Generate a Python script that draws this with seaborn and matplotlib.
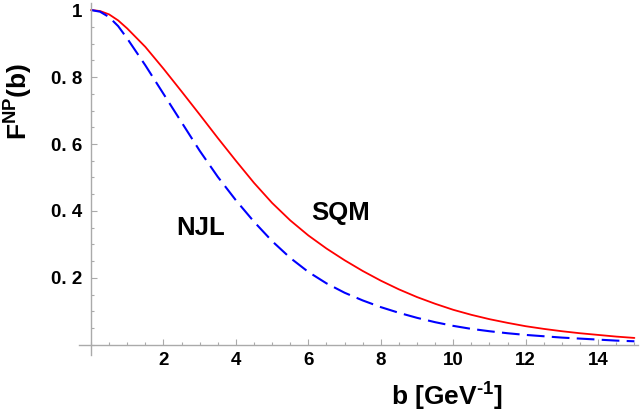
import numpy as np
import pandas as pd
import seaborn as sns
import matplotlib.pyplot as plt
from matplotlib.ticker import MultipleLocator, FixedLocator

# values (b in GeV^-1)
b = [0.0, 0.25, 0.5, 0.75, 1.0, 1.5, 2.0, 2.5, 3.0, 3.5, 4.0, 4.5, 5.0, 5.5, 6.0, 6.5, 7.0,
     7.5, 8.0, 8.5, 9.0, 9.5, 10.0, 10.5, 11.0, 11.5, 12.0, 12.5, 13.0, 13.5, 14.0, 14.5, 15.0]
sqm = [1.0, 0.997, 0.987, 0.969, 0.945, 0.89, 0.825, 0.757, 0.688, 0.618, 0.550, 0.484,
       0.424, 0.372, 0.327, 0.288, 0.253, 0.221, 0.192, 0.166, 0.143, 0.123, 0.105, 0.090,
       0.077, 0.066, 0.056, 0.048, 0.041, 0.035, 0.030, 0.025, 0.021]
njl = [1.0, 0.995, 0.979, 0.952, 0.915, 0.835, 0.75, 0.665, 0.58, 0.502, 0.432, 0.368,
       0.310, 0.260, 0.218, 0.184, 0.156, 0.133, 0.113, 0.096, 0.081, 0.068, 0.057, 0.048,
       0.041, 0.035, 0.030, 0.026, 0.022, 0.019, 0.016, 0.013, 0.011]

xticks = [2, 4, 6, 8, 10, 12, 14]
xticklabels = ["2", "4", "6", "8", "10", "12", "14"]
yticks = [0.2, 0.4, 0.6, 0.8, 1.0]
yticklabels = ["0. 2", "0. 4", "0. 6", "0. 8", "1"]

df = pd.DataFrame({"b": b, "SQM": sqm, "NJL": njl})

sns.set_style("white")
plt.rcParams["font.family"] = ["Liberation Sans", "DejaVu Sans"]
plt.rcParams["font.weight"] = "bold"
plt.rcParams["text.color"] = "black"
plt.rcParams["axes.labelcolor"] = "black"
plt.rcParams["xtick.labelcolor"] = "black"
plt.rcParams["ytick.labelcolor"] = "black"
plt.rcParams["mathtext.fontset"] = "custom"
plt.rcParams["mathtext.rm"] = "Liberation Sans:bold"
plt.rcParams["mathtext.it"] = "Liberation Sans:bold"
plt.rcParams["mathtext.bf"] = "Liberation Sans:bold"

fig = plt.figure(figsize=(6.44, 4.16), dpi=100)
ax = fig.add_axes([0.1227, 0.1466, 0.8680, 0.8454])

sns.lineplot(data=df, x="b", y="SQM", ax=ax, color="#ff0000", lw=1.3)
sns.lineplot(data=df, x="b", y="NJL", ax=ax, color="#0000ff", lw=1.5,
             linestyle=(0, (8.5, 3.5)))

ax.set_xlim(-0.33, 15.1)
ax.set_ylim(-0.03, 1.02)

axis_col = "#aaaaaa"
for side in ["top", "right"]:
    ax.spines[side].set_visible(False)
for side in ["left", "bottom"]:
    ax.spines[side].set_position(("data", 0))
    ax.spines[side].set_color(axis_col)
    ax.spines[side].set_linewidth(1.0)

ax.xaxis.set_major_locator(FixedLocator(xticks))
ax.set_xticklabels(xticklabels)
ax.xaxis.set_minor_locator(MultipleLocator(0.5))
ax.yaxis.set_major_locator(FixedLocator(yticks))
ax.set_yticklabels(yticklabels)
ax.yaxis.set_minor_locator(MultipleLocator(0.05))

ax.tick_params(which="both", direction="in", color=axis_col, width=0.8,
               labelsize=13.5, bottom=True, left=True)
ax.tick_params(which="major", length=4.5, pad=5)
ax.tick_params(which="minor", length=2.5)
ax.tick_params(axis="y", which="major", pad=6)

ax.set_xlabel(r"b [GeV$^{\text{-1}}$]", fontsize=19, fontweight="bold")
ax.set_ylabel("F$^{NP}$(b)", fontsize=19, fontweight="bold")
ax.xaxis.set_label_coords(0.658, -0.074)
ax.yaxis.set_label_coords(-0.078, 0.72)

ax.text(3.04, 0.35, "NJL", fontsize=18.5, fontweight="bold", ha="center", va="center")
ax.text(6.9, 0.394, "SQM", fontsize=18.5, fontweight="bold", ha="center", va="center")

fig.savefig("out.png", dpi=100)
